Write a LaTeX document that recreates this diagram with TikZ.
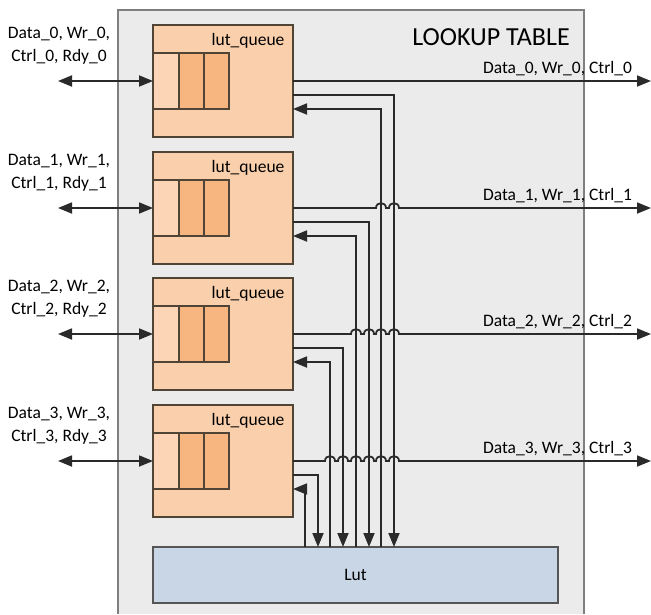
\documentclass[tikz,border=0pt]{standalone}
\usepackage{fontspec}
\setmainfont{Carlito}
\usepackage{tikz}
\usetikzlibrary{arrows.meta}
\usepackage{xcolor}
\definecolor{tablegray}{HTML}{EBEBEB}
\definecolor{tableedge}{HTML}{7F7F7F}
\definecolor{queuefill}{HTML}{FACFAB}
\definecolor{cellpale}{HTML}{FBD5B5}
\definecolor{celldark}{HTML}{F7B57F}
\definecolor{queueedge}{HTML}{4F4436}
\definecolor{lutfill}{HTML}{C8D6E6}
\definecolor{lutedge}{HTML}{555555}
\definecolor{wirecol}{HTML}{2A2A2A}

\begin{document}
\begin{tikzpicture}[x=1pt,y=-1pt,font=\fontsize{17.5}{23}\selectfont,
  queue/.style={draw=queueedge,fill=queuefill,line width=1.3pt,minimum width=140pt,minimum height=112pt,inner sep=0pt,outer sep=0pt},
  cell/.style={draw=queueedge,line width=1.3pt},
  lutbox/.style={draw=lutedge,fill=lutfill,line width=1.3pt,minimum width=405pt,minimum height=56pt,outer sep=0pt},
  wire/.style={draw=wirecol,line width=1.8pt},
  >={Triangle[length=14pt,width=11pt]}]
  \useasboundingbox (0,0) rectangle (651,614);

  % 外枠
  \fill[tablegray] (118,10) rectangle (584,614);
  \draw[tableedge,line width=1.6pt] (118,614) -- (118,10) -- (584,10) -- (584,614);
  \node[font=\fontsize{26}{30}\selectfont,anchor=base] (title) at (491,45) {LOOKUP TABLE};

  % Lut
  \node[lutbox] (lut) at (355.5,575) {Lut};

  % キューと配線
  \foreach \i/\yc/\xd/\xu in {0/81/394/381, 1/208/369/356, 2/334/343/330, 3/461/318/305} {
    \node[queue] (q\i) at (223,\yc) {};
    \node[anchor=base east] (qn\i) at (288,\yc-36) {lut\_queue};
    \filldraw[cell,fill=cellpale] (153,\yc-28) rectangle (179,\yc+28);
    \filldraw[cell,fill=celldark] (179,\yc-28) rectangle (204,\yc+28);
    \filldraw[cell,fill=celldark] (204,\yc-28) rectangle (229,\yc+28);
    \coordinate (w\i) at (58,\yc);
    \coordinate (o\i) at (651,\yc);
    \coordinate (d\i) at (\xd,0 |- lut.north);
    \coordinate (u\i) at (\xu,0 |- lut.north);
    \draw[wire,<->] (w\i) -- (q\i.west);
    \draw[wire,->] ([yshift=-14pt]q\i.east) -| (d\i);
    \draw[wire,->] (u\i) |- ([yshift=-28pt]q\i.east);
    \node[align=center] (in\i) at (59,\yc-35) {Data\_\i, Wr\_\i,\\Ctrl\_\i, Rdy\_\i};
    \node[anchor=base] (out\i) at (557.5,\yc-8) {Data\_\i, Wr\_\i, Ctrl\_\i};
  }

  % 出力（交差部はジャンプ）
  \draw[wire,->] (q0.east) -- (o0);
  \draw[wire,->] (q1.east) \foreach \c in {381,394} {
    -- (\c-5,208) .. controls +(0,-6.5) and +(0,-6.5) .. (\c+5,208)} -- (o1);
  \draw[wire,->] (q2.east) \foreach \c in {356,369,381,394} {
    -- (\c-5,334) .. controls +(0,-6.5) and +(0,-6.5) .. (\c+5,334)} -- (o2);
  \draw[wire,->] (q3.east) \foreach \c in {330,343,356,369,381,394} {
    -- (\c-5,461) .. controls +(0,-6.5) and +(0,-6.5) .. (\c+5,461)} -- (o3);
\end{tikzpicture}
\end{document}
